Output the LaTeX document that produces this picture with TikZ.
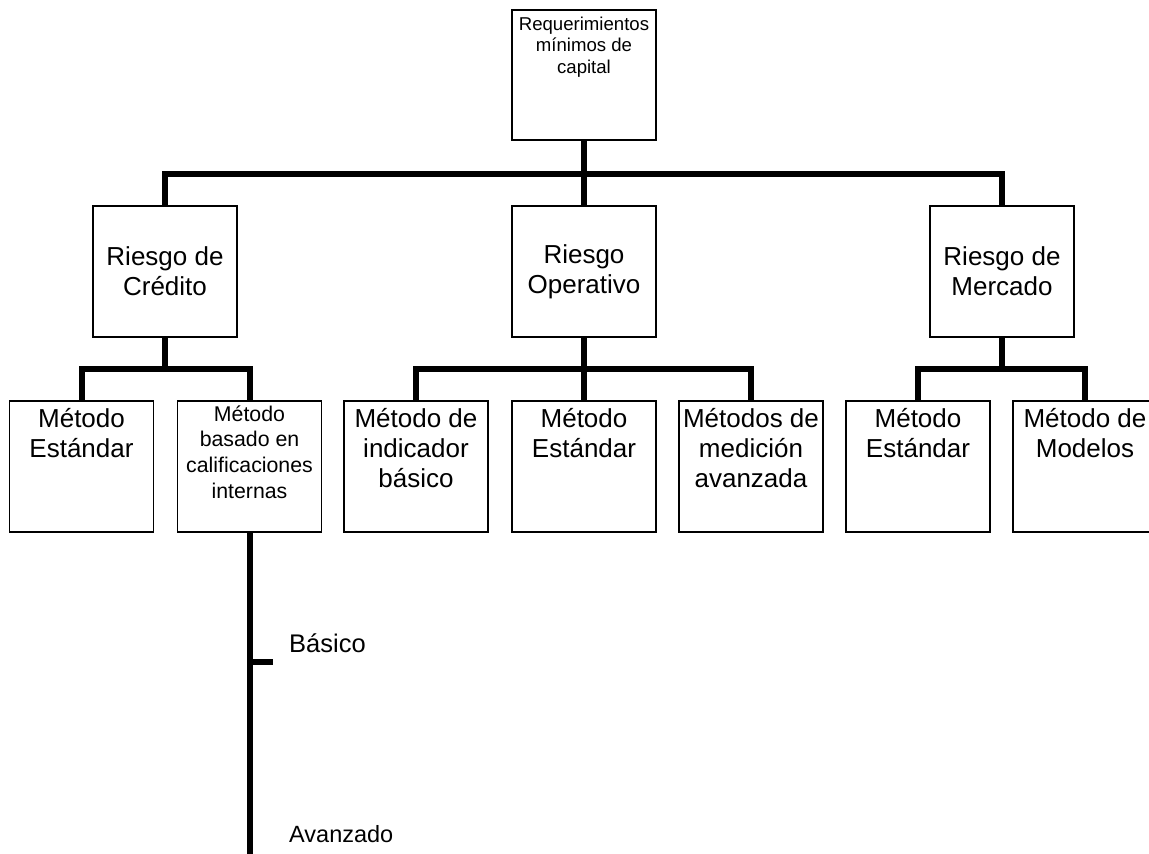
\documentclass[tikz,border=0pt]{standalone}
\usepackage{fontspec}
\setmainfont{Liberation Sans}

% stacked, centred lines whose baseline is that of the first line
\newcommand\boxlines[1]{\begin{tabular}[t]{@{}c@{}}#1\end{tabular}}

\tikzset{
  unit/.style={draw, line width=1.5pt, fill=white, minimum width=144pt,
    minimum height=131pt, inner sep=0pt, outer sep=0pt},
  big/.style={font=\fontsize{26}{30}\selectfont},
  caption/.style={anchor=base, inner sep=0pt},
  link/.style={line width=6pt},
}

\begin{document}
\begin{tikzpicture}[x=1pt, y=-1pt]
\useasboundingbox (0,0) rectangle (1149,854);
\clip (0,0) rectangle (1149,854);

% levels of the tree
\coordinate (row1) at (0,174);
\coordinate (row2) at (0,369);
\coordinate (floor) at (0,860);
\coordinate (tick) at (273,662);

% boxes
\node[unit, minimum height=130pt] (top) at (584,75) {};
\node[unit, big, align=center] (credit) at (165,271.5) {Riesgo de\\Crédito};
\node[unit, big, align=center] (oper) at (584,271.5) {Riesgo\\Operativo};
\node[unit, big, align=center] (merc) at (1002,271.5) {Riesgo de\\Mercado};

\node[unit] (ce) at (81.5,466.5) {};
\node[unit] (cb) at (249.5,466.5) {};
\node[unit] (oi) at (416,466.5) {};
\node[unit] (oe) at (584,466.5) {};
\node[unit] (om) at (751,466.5) {};
\node[unit] (me) at (918,466.5) {};
\node[unit] (mm) at (1085,466.5) {};

% connectors below the first level
\draw[link] (top.south) -- (top.south |- row1) -| (credit.north);
\draw[link] (top.south |- row1) -| (merc.north);
\draw[link] (top.south) -- (oper.north);

% connectors below the second level
\draw[link] (credit.south) -- (credit.south |- row2) -| (ce.north);
\draw[link] (credit.south |- row2) -| (cb.north);
\draw[link] (oper.south) -- (oper.south |- row2) -| (oi.north);
\draw[link] (oper.south |- row2) -| (om.north);
\draw[link] (oper.south) -- (oe.north);
\draw[link] (merc.south) -- (merc.south |- row2) -| (me.north);
\draw[link] (merc.south |- row2) -| (mm.north);

% approaches of the internal ratings method
\draw[link] (cb.south) -- (cb.south |- floor);
\draw[link] (cb.south |- tick) -- (tick);

% box texts, hung from the top edge
\node[caption, font=\fontsize{18.6}{21.5}\selectfont] (top-t) at ([yshift=-20pt]top.north)
  {\boxlines{Requerimientos\\mínimos de\\capital}};
\node[caption, big] (ce-t) at ([yshift=-26pt]ce.north) {\boxlines{Método\\Estándar}};
\node[caption, font=\fontsize{21.3}{25.7}\selectfont] (cb-t) at ([yshift=-20pt]cb.north)
  {\boxlines{Método\\basado en\\calificaciones\\internas}};
\node[caption, big] (oi-t) at ([yshift=-26pt]oi.north) {\boxlines{Método de\\indicador\\básico}};
\node[caption, big] (oe-t) at ([yshift=-26pt]oe.north) {\boxlines{Método\\Estándar}};
\node[caption, big] (om-t) at ([yshift=-26pt]om.north) {\boxlines{Métodos de\\medición\\avanzada}};
\node[caption, big] (me-t) at ([yshift=-26pt]me.north) {\boxlines{Método\\Estándar}};
\node[caption, big] (mm-t) at ([yshift=-26pt]mm.north) {\boxlines{Método de\\Modelos}};

% side labels
\node[anchor=base west, inner sep=0pt, font=\fontsize{25.5}{30}\selectfont] (basico) at (289,652) {Básico};
\node[anchor=base west, inner sep=0pt, font=\fontsize{23.5}{28}\selectfont] (avanzado) at (289,842) {Avanzado};
\end{tikzpicture}
\end{document}
